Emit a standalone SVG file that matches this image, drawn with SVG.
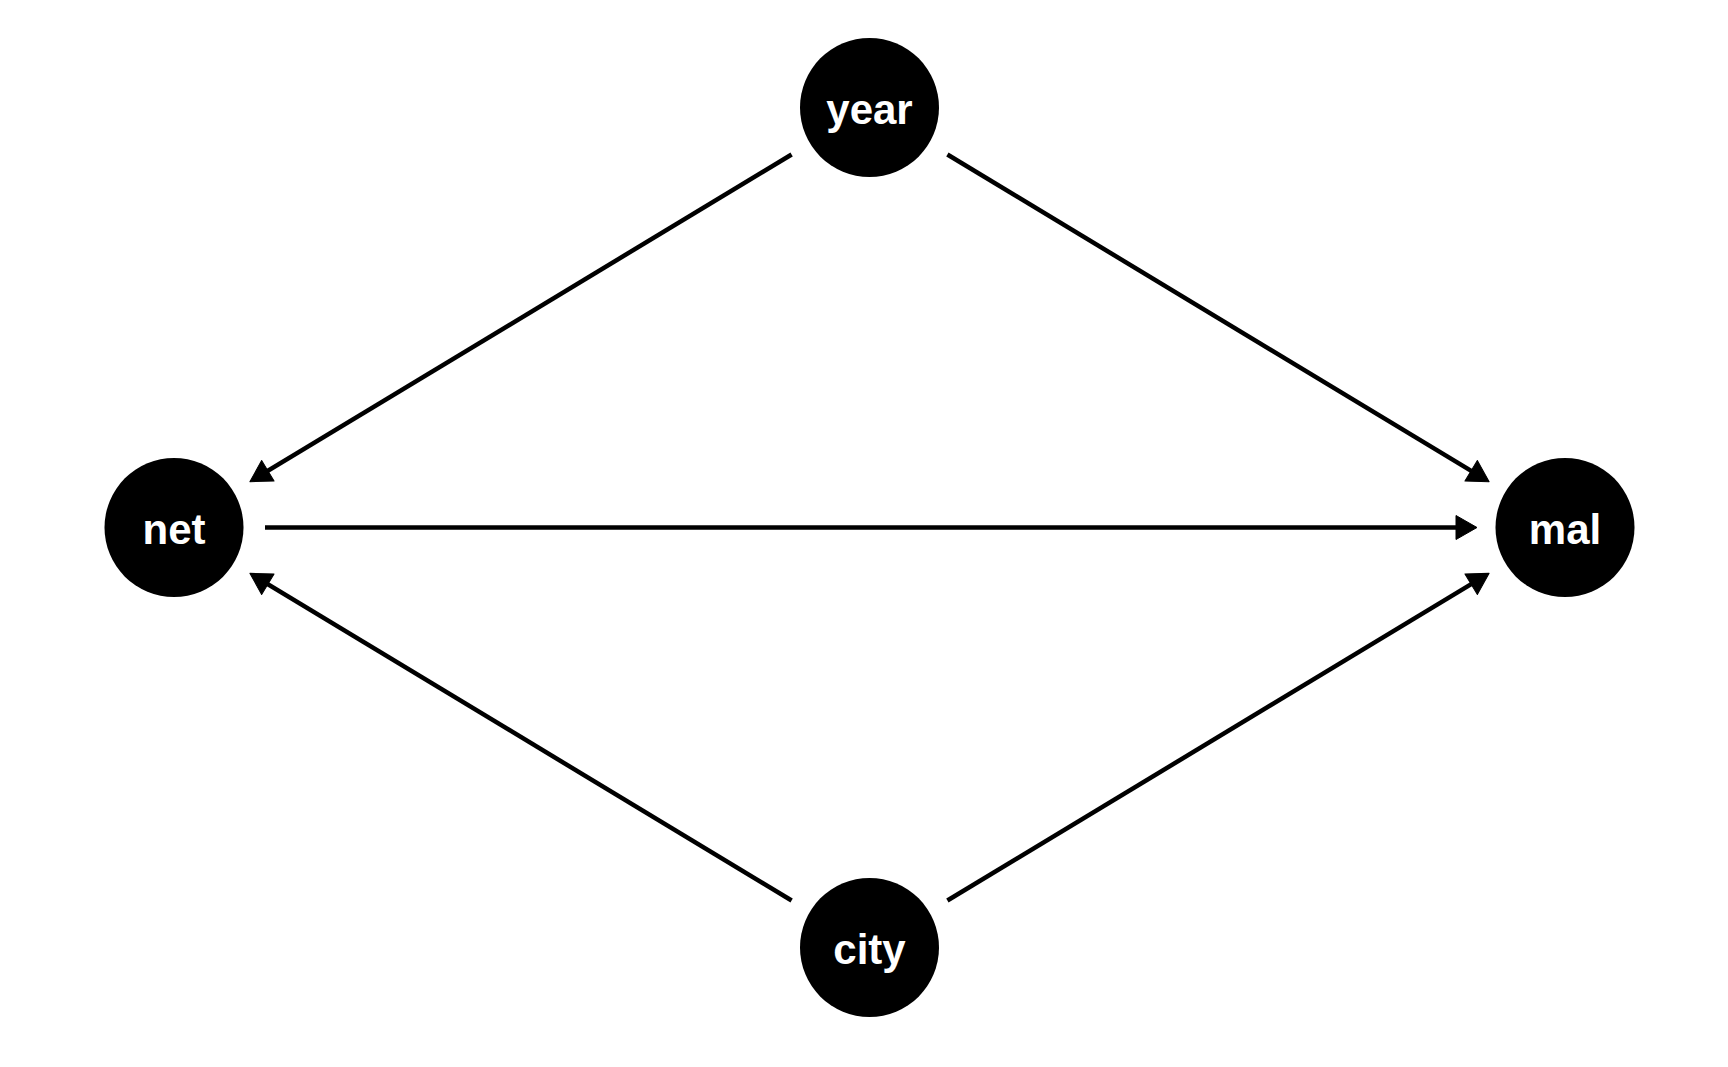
<svg xmlns="http://www.w3.org/2000/svg" width="1728" height="1067" viewBox="0 0 1728 1067">
  <style>
    .node circle { fill: #000000; }
    .node text { fill: #ffffff; font-family: "Liberation Sans", Arial, sans-serif; font-weight: bold; font-size: 42px; text-anchor: middle; }
    .edge { stroke: #000000; stroke-width: 4.5; fill: none; marker-end: url(#arrow); }
  </style>
  <defs>
    <marker id="arrow" markerUnits="userSpaceOnUse" markerWidth="26" markerHeight="26" refX="17" refY="12" orient="auto" overflow="visible">
      <path d="M0,0 L21,12 L0,24 Z" fill="#000000" stroke="#000000" stroke-width="1" stroke-linejoin="round"/>
    </marker>
  </defs>
  <rect width="1728" height="1067" fill="#ffffff"/>
  <g id="connectors">
    <path class="edge" d="M791.6,154.5 L253.3,479.6"/>
    <path class="edge" d="M947.4,154.5 L1485.7,479.6"/>
    <path class="edge" d="M791.6,900.5 L253.3,575.4"/>
    <path class="edge" d="M947.4,900.5 L1485.7,575.4"/>
    <path class="edge" d="M265,527.5 L1473,527.5"/>
  </g>
  <g id="year" class="node">
    <circle cx="869.5" cy="107.5" r="69.5"/>
    <text x="869.5" y="124.2">year</text>
  </g>
  <g id="net" class="node">
    <circle cx="174" cy="527.5" r="69.5"/>
    <text x="174" y="544.2">net</text>
  </g>
  <g id="mal" class="node">
    <circle cx="1565" cy="527.5" r="69.5"/>
    <text x="1565" y="544.2">mal</text>
  </g>
  <g id="city" class="node">
    <circle cx="869.5" cy="947.5" r="69.5"/>
    <text x="869.5" y="964.2">city</text>
  </g>
</svg>
